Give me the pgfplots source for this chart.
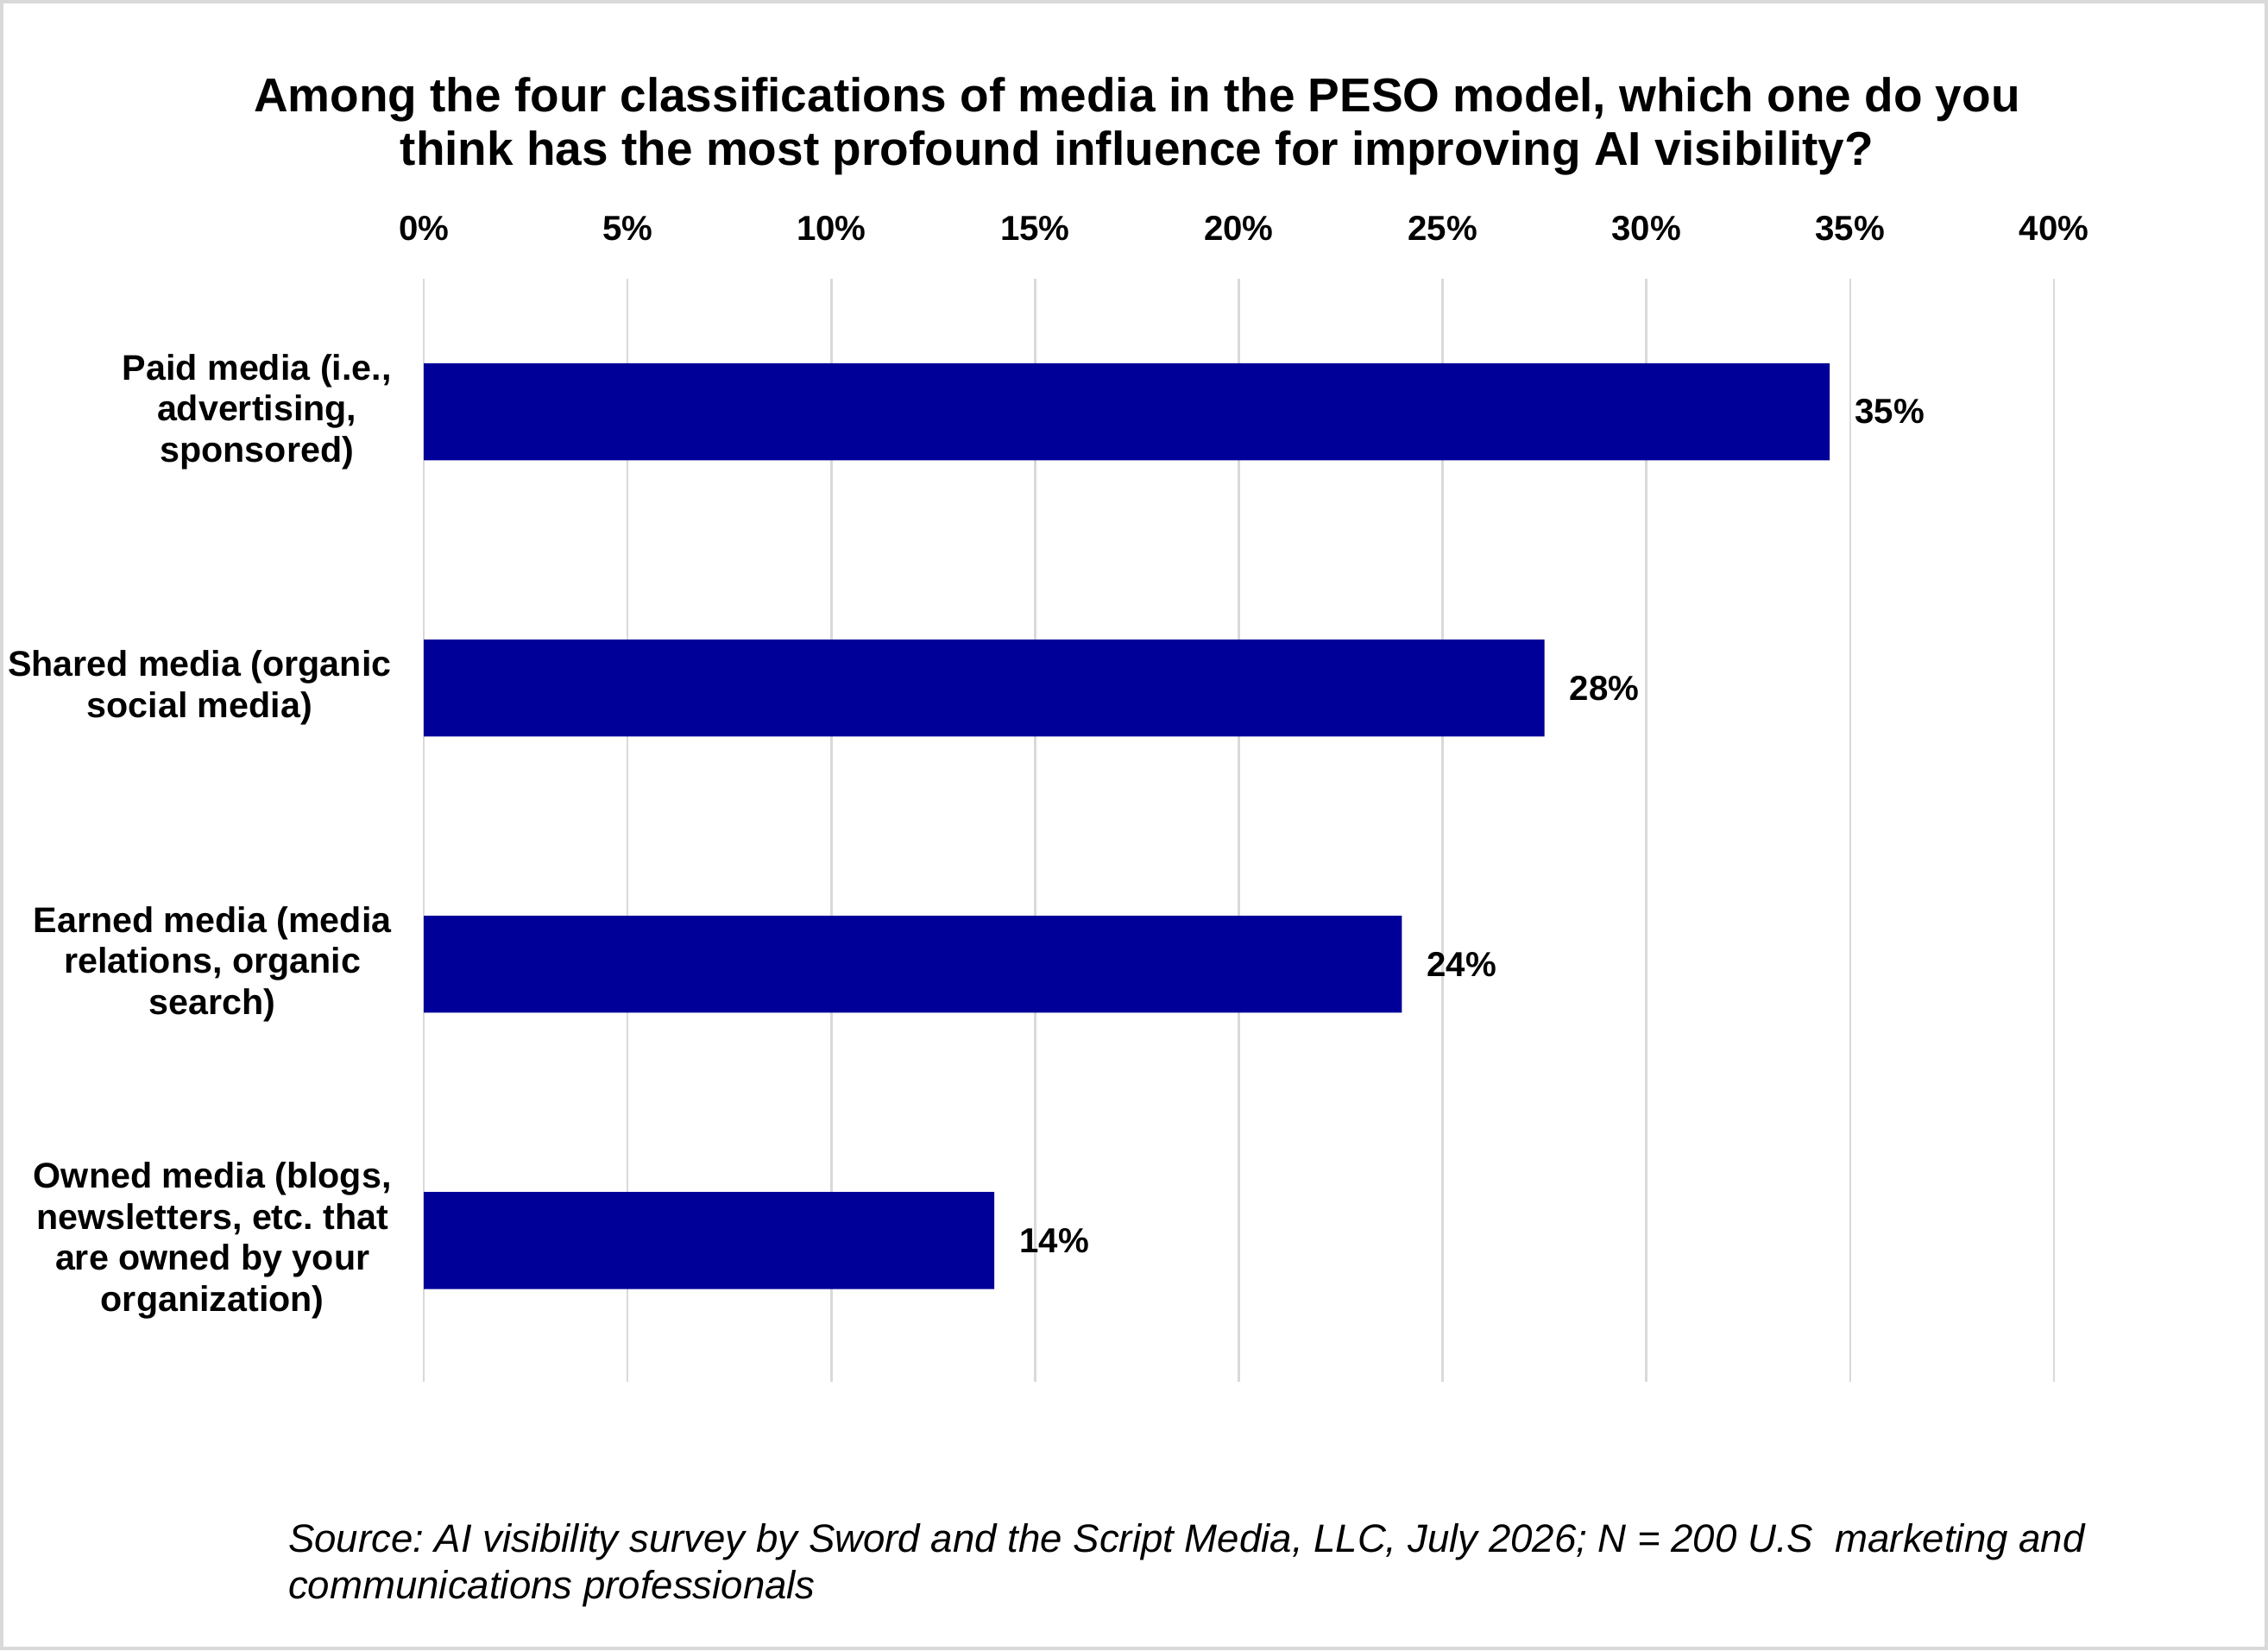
\documentclass[border=0pt]{standalone}
\usepackage{fontspec}
\setmainfont{Liberation Sans}
\usepackage{pgfplots}
\pgfplotsset{compat=1.18}
\definecolor{barblue}{HTML}{000099}
\definecolor{gridgray}{HTML}{D9D9D9}
\begin{document}
\frenchspacing
\begin{tikzpicture}
\useasboundingbox (0,0) rectangle (784pt,-570.5pt);
\draw[gridgray, line width=1.2pt] (0.6pt,-0.6pt) rectangle (783.4pt,-569.9pt);
\node[anchor=base, align=center, font=\fontsize{16.4}{18.5}\selectfont\bfseries, inner sep=0pt] at (393pt,-57pt)
 {Among the four classifications of media in the PESO model, which one do you\\think has the most profound influence for improving AI visibility?};
\begin{axis}[
  at={(146.5pt,-477.5pt)}, anchor=south west,
  width=563.5pt, height=381pt, scale only axis,
  xbar, bar width=33.5pt,
  xmin=0, xmax=40, ymin=-0.51, ymax=3.48,
  axis line style={draw=none},
  major tick length=0pt,
  xtick={0,5,...,40},
  xticklabels={0\%,5\%,10\%,15\%,20\%,25\%,30\%,35\%,40\%},
  xticklabel pos=upper,
  xticklabel style={font=\fontsize{12}{14}\selectfont\bfseries, inner sep=0pt, anchor=south, yshift=13pt},
  ytick={0,1,2,3},
  yticklabels={{Owned media (blogs,\\newsletters, etc. that\\are owned by your\\organization)},
               {Earned media (media\\relations, organic\\search)},
               {Shared media (organic\\social media)},
               {Paid media (i.e.,\\advertising,\\sponsored)}},
  yticklabel style={font=\fontsize{12.3}{14.25}\selectfont\bfseries, align=center, anchor=east, inner sep=0pt, xshift=-11pt},
  xmajorgrids, grid style={gridgray, line width=0.75pt},
  point meta=explicit symbolic,
  nodes near coords,
  nodes near coords style={font=\fontsize{12}{14}\selectfont\bfseries, anchor=west, inner sep=0pt, xshift=8.5pt},
]
\addplot[fill=barblue, draw=none] coordinates {
  (14.0,0) [14\%]
  (24.0,1) [24\%]
  (27.5,2) [28\%]
  (34.5,3) [35\%]
};
\end{axis}
\node[anchor=base west, align=left, font=\fontsize{13.6}{16}\selectfont\itshape, inner sep=0pt] at (99.5pt,-552.5pt)
 {Source: AI visibility survey by Sword and the Script Media, LLC, July 2026; N = 200 U.S\ \ marketing and\\communications professionals};
\end{tikzpicture}
\end{document}
